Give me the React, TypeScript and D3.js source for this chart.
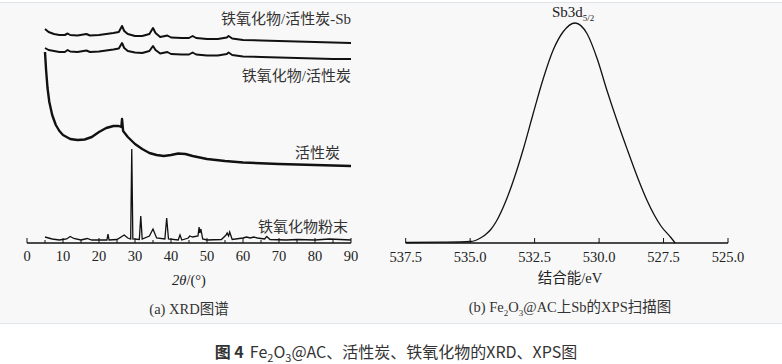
import React, { useEffect } from "react";
import * as d3 from "d3";

// XRD, 2θ in degrees, intensity in arbitrary units (stacked offsets included)
const xrdTicks = [0, 10, 20, 30, 40, 50, 60, 70, 80, 90];

const sbAcX = [5, 6, 7.5, 9, 10.5, 11.3, 12, 14, 16.5, 17.5, 20, 22, 24, 25.5, 26.4, 27, 28, 30, 32, 34, 35, 35.7, 37, 39, 40, 43, 45, 46, 47, 50, 53, 55.5, 56, 57, 60, 65, 70, 75, 80, 85, 90];
const sbAcY = [214, 211, 209, 208, 208, 209.5, 208, 207.5, 209, 207.5, 208, 209, 210, 211, 217, 212, 209, 207, 207, 209, 215, 210, 206, 207.5, 205.5, 205, 205, 207, 205, 204, 204, 205.5, 207, 204.5, 203, 202.5, 202, 201.5, 201, 200.5, 200];

const feAcX = [5, 6, 7.5, 9, 10.5, 11.3, 12, 14, 16.5, 17.5, 20, 22, 24, 25.5, 26.4, 27, 28, 30, 32, 34, 35, 35.7, 37, 39, 40, 43, 45, 46, 47, 50, 53, 55.5, 56, 57, 60, 65, 70, 75, 80, 85, 90];
const feAcY = [195, 193, 192, 191, 191, 193, 191.5, 191, 192.5, 191, 191.5, 192.5, 193.5, 194.5, 200, 195, 192, 190.5, 190, 192, 197, 193, 189.5, 191, 189, 188.5, 188.5, 190.5, 188.5, 187.5, 187.5, 189, 190.5, 188, 186.5, 186, 185.5, 185, 184.5, 184, 184];

const acX = [5, 5.3, 5.7, 6.2, 7, 8, 9, 10, 12, 14, 16, 18, 20, 22, 24, 25.5, 26.2, 26.4, 26.7, 28, 30, 32, 34, 36, 38, 40, 42, 44, 46, 50, 55, 60, 70, 80, 90];
const acY = [191, 173, 155, 141, 128, 118, 112, 108, 104, 103, 103.5, 106, 111, 115, 117, 117, 116, 124, 112, 106, 99, 94, 90, 88, 87, 88, 89.5, 89, 87, 84, 82, 80.5, 79, 78, 77];

const feX = [5, 7, 9, 11, 12, 13, 15, 16.7, 18, 22.2, 22.5, 22.8, 25, 27, 28, 28.8, 29.1, 29.4, 31.2, 31.6, 32, 34, 35, 36, 38.3, 38.8, 39.3, 42, 42.5, 43, 44.8, 45.2, 46, 47.5, 47.8, 48, 48.3, 48.8, 50, 54, 55.3, 55.6, 56, 56.3, 57, 60, 61, 62, 63, 64, 66, 66.6, 67.5, 72, 75, 80, 84, 90];
const feY = [6, 4, 3, 4, 6.5, 4.5, 3, 4.5, 3, 3, 9, 3, 3.5, 8, 5, 4, 94, 4, 3.5, 27, 4, 7, 14, 5, 4, 25, 4, 3, 8, 3, 5, 7, 6, 7, 16, 10, 14, 4, 3, 3.5, 8, 10, 7, 11, 3.5, 5, 6, 5, 6, 5, 4, 6.5, 3.5, 3, 3.5, 3, 4, 3];

// XPS Sb3d5/2, binding energy eV vs intensity (a.u.)
const xpsTicks = [537.5, 535.0, 532.5, 530.0, 527.5, 525.0];
const xpsE = [537.5, 536, 535.0, 534.8, 534.6, 534.4, 534.2, 534.0, 533.6, 533.2, 532.95, 532.56, 532.17, 531.78, 531.4, 530.93, 530.46, 530.07, 529.7, 529.3, 528.9, 528.5, 528.13, 527.6, 527.2, 527.05];
const xpsI = [0.5, 0.8, 1.5, 2.5, 5, 8.5, 13.5, 21, 43, 72, 93, 129, 164, 193, 211, 220, 209, 184, 153, 122, 93, 65, 42, 17, 5, 0];

const W = 782;
const H = 364;
const serif = "'Liberation Serif', 'Noto Sans CJK SC', serif";
const cjk = "'Noto Sans CJK SC', sans-serif";

export default function App() {
  useEffect(() => {
    document.body.style.margin = "0";
  }, []);

  const axisY = 243;
  const xL = d3.scaleLinear().domain([0, 90]).range([27, 351]);
  const yL = d3.scaleLinear().domain([0, 220]).range([axisY, 23]);
  const xR = d3.scaleLinear().domain([537.5, 525]).range([405.7, 728]);
  const yR = d3.scaleLinear().domain([0, 220]).range([axisY, 23]);

  const lineL = d3.line<[number, number]>().x(d => xL(d[0])).y(d => yL(d[1]));
  const lineR = d3
    .line<[number, number]>()
    .x(d => xR(d[0]))
    .y(d => yR(d[1]))
    .curve(d3.curveMonotoneX);

  const zip = (a: number[], b: number[]) => a.map((v, i) => [v, b[i]] as [number, number]);

  const minorL = d3.range(0, 91, 5);

  return (
    <svg width={W} height={H} style={{ display: "block", background: "#fff" }}>
      <rect x={0} y={2} width={W} height={321} fill="#f8f8f8" />
      <line x1={0} x2={W} y1={2.5} y2={2.5} stroke="#dfe5e9" />
      <line x1={0} x2={W} y1={323.5} y2={323.5} stroke="#dfe5e9" />

      {/* (a) XRD */}
      <g>
        <line x1={xL(0)} x2={xL(90)} y1={axisY} y2={axisY} stroke="#111" strokeWidth={1.3} />
        {minorL.map(t => (
          <line key={t} x1={xL(t)} x2={xL(t)} y1={axisY} y2={axisY - (t % 10 === 0 ? 5 : 3)} stroke="#111" strokeWidth={1} />
        ))}
        {xrdTicks.map(t => (
          <text key={t} x={xL(t)} y={261} textAnchor="middle" fontFamily={serif} fontSize={14.5} fill="#222">
            {t}
          </text>
        ))}
        <path d={lineL(zip(feX, feY)) || ""} fill="none" stroke="#111" strokeWidth={1.3} />
        <path d={lineL(zip(acX, acY)) || ""} fill="none" stroke="#111" strokeWidth={2.4} strokeLinejoin="round" />
        <path d={lineL(zip(feAcX, feAcY)) || ""} fill="none" stroke="#111" strokeWidth={2} strokeLinejoin="round" />
        <path d={lineL(zip(sbAcX, sbAcY)) || ""} fill="none" stroke="#111" strokeWidth={2} strokeLinejoin="round" />

        <text x={351} y={24} textAnchor="end" fontFamily={serif} fontSize={15} fill="#333">铁氧化物/活性炭-Sb</text>
        <text x={351} y={81} textAnchor="end" fontFamily={serif} fontSize={15} fill="#333">铁氧化物/活性炭</text>
        <text x={340} y={158} textAnchor="end" fontFamily={serif} fontSize={15} fill="#333">活性炭</text>
        <text x={348} y={232} textAnchor="end" fontFamily={serif} fontSize={15} fill="#333">铁氧化物粉末</text>

        <text x={189} y={285} textAnchor="middle" fontFamily={serif} fontSize={14.5} fill="#222">
          <tspan fontStyle="italic">2θ</tspan>/(°)
        </text>
        <text x={189} y={314} textAnchor="middle" fontFamily={serif} fontSize={14.5} fill="#333">(a) XRD图谱</text>
      </g>

      {/* (b) XPS */}
      <g>
        <line x1={xR(537.5)} x2={xR(525)} y1={axisY} y2={axisY} stroke="#111" strokeWidth={1.3} />
        {xpsTicks.map(t => (
          <g key={t}>
            <line x1={xR(t)} x2={xR(t)} y1={axisY} y2={axisY - 5} stroke="#111" strokeWidth={1} />
            <text x={xR(t)} y={262} textAnchor="middle" fontFamily={serif} fontSize={14.5} fill="#222">
              {t.toFixed(1)}
            </text>
          </g>
        ))}
        <path d={lineR(zip(xpsE, xpsI)) || ""} fill="none" stroke="#111" strokeWidth={1.3} />
        <text x={xR(530.93) - 2} y={17} textAnchor="middle" fontFamily={serif} fontSize={15} fill="#222">
          Sb3d<tspan fontSize={9} dy={4}>5/2</tspan>
        </text>
        <text x={570} y={283} textAnchor="middle" fontFamily={serif} fontSize={14.5} fill="#222">结合能/eV</text>
        <text x={570} y={312} textAnchor="middle" fontFamily={serif} fontSize={14.5} fill="#333">
          (b) Fe<tspan fontSize={9} dy={4}>2</tspan>
          <tspan dy={-4}>O</tspan>
          <tspan fontSize={9} dy={4}>3</tspan>
          <tspan dy={-4}>@AC上Sb的XPS扫描图</tspan>
        </text>
      </g>

      {/* figure caption */}
      <text x={396} y={358} textAnchor="middle" fontFamily={cjk} fontSize={16} fill="#333">
        <tspan fontWeight="bold">图 4</tspan>
        <tspan dx={6}>Fe</tspan>
        <tspan fontSize={11} dy={4}>2</tspan>
        <tspan dy={-4}>O</tspan>
        <tspan fontSize={11} dy={4}>3</tspan>
        <tspan dy={-4}>@AC、活性炭、铁氧化物的XRD、XPS图</tspan>
      </text>
    </svg>
  );
}
